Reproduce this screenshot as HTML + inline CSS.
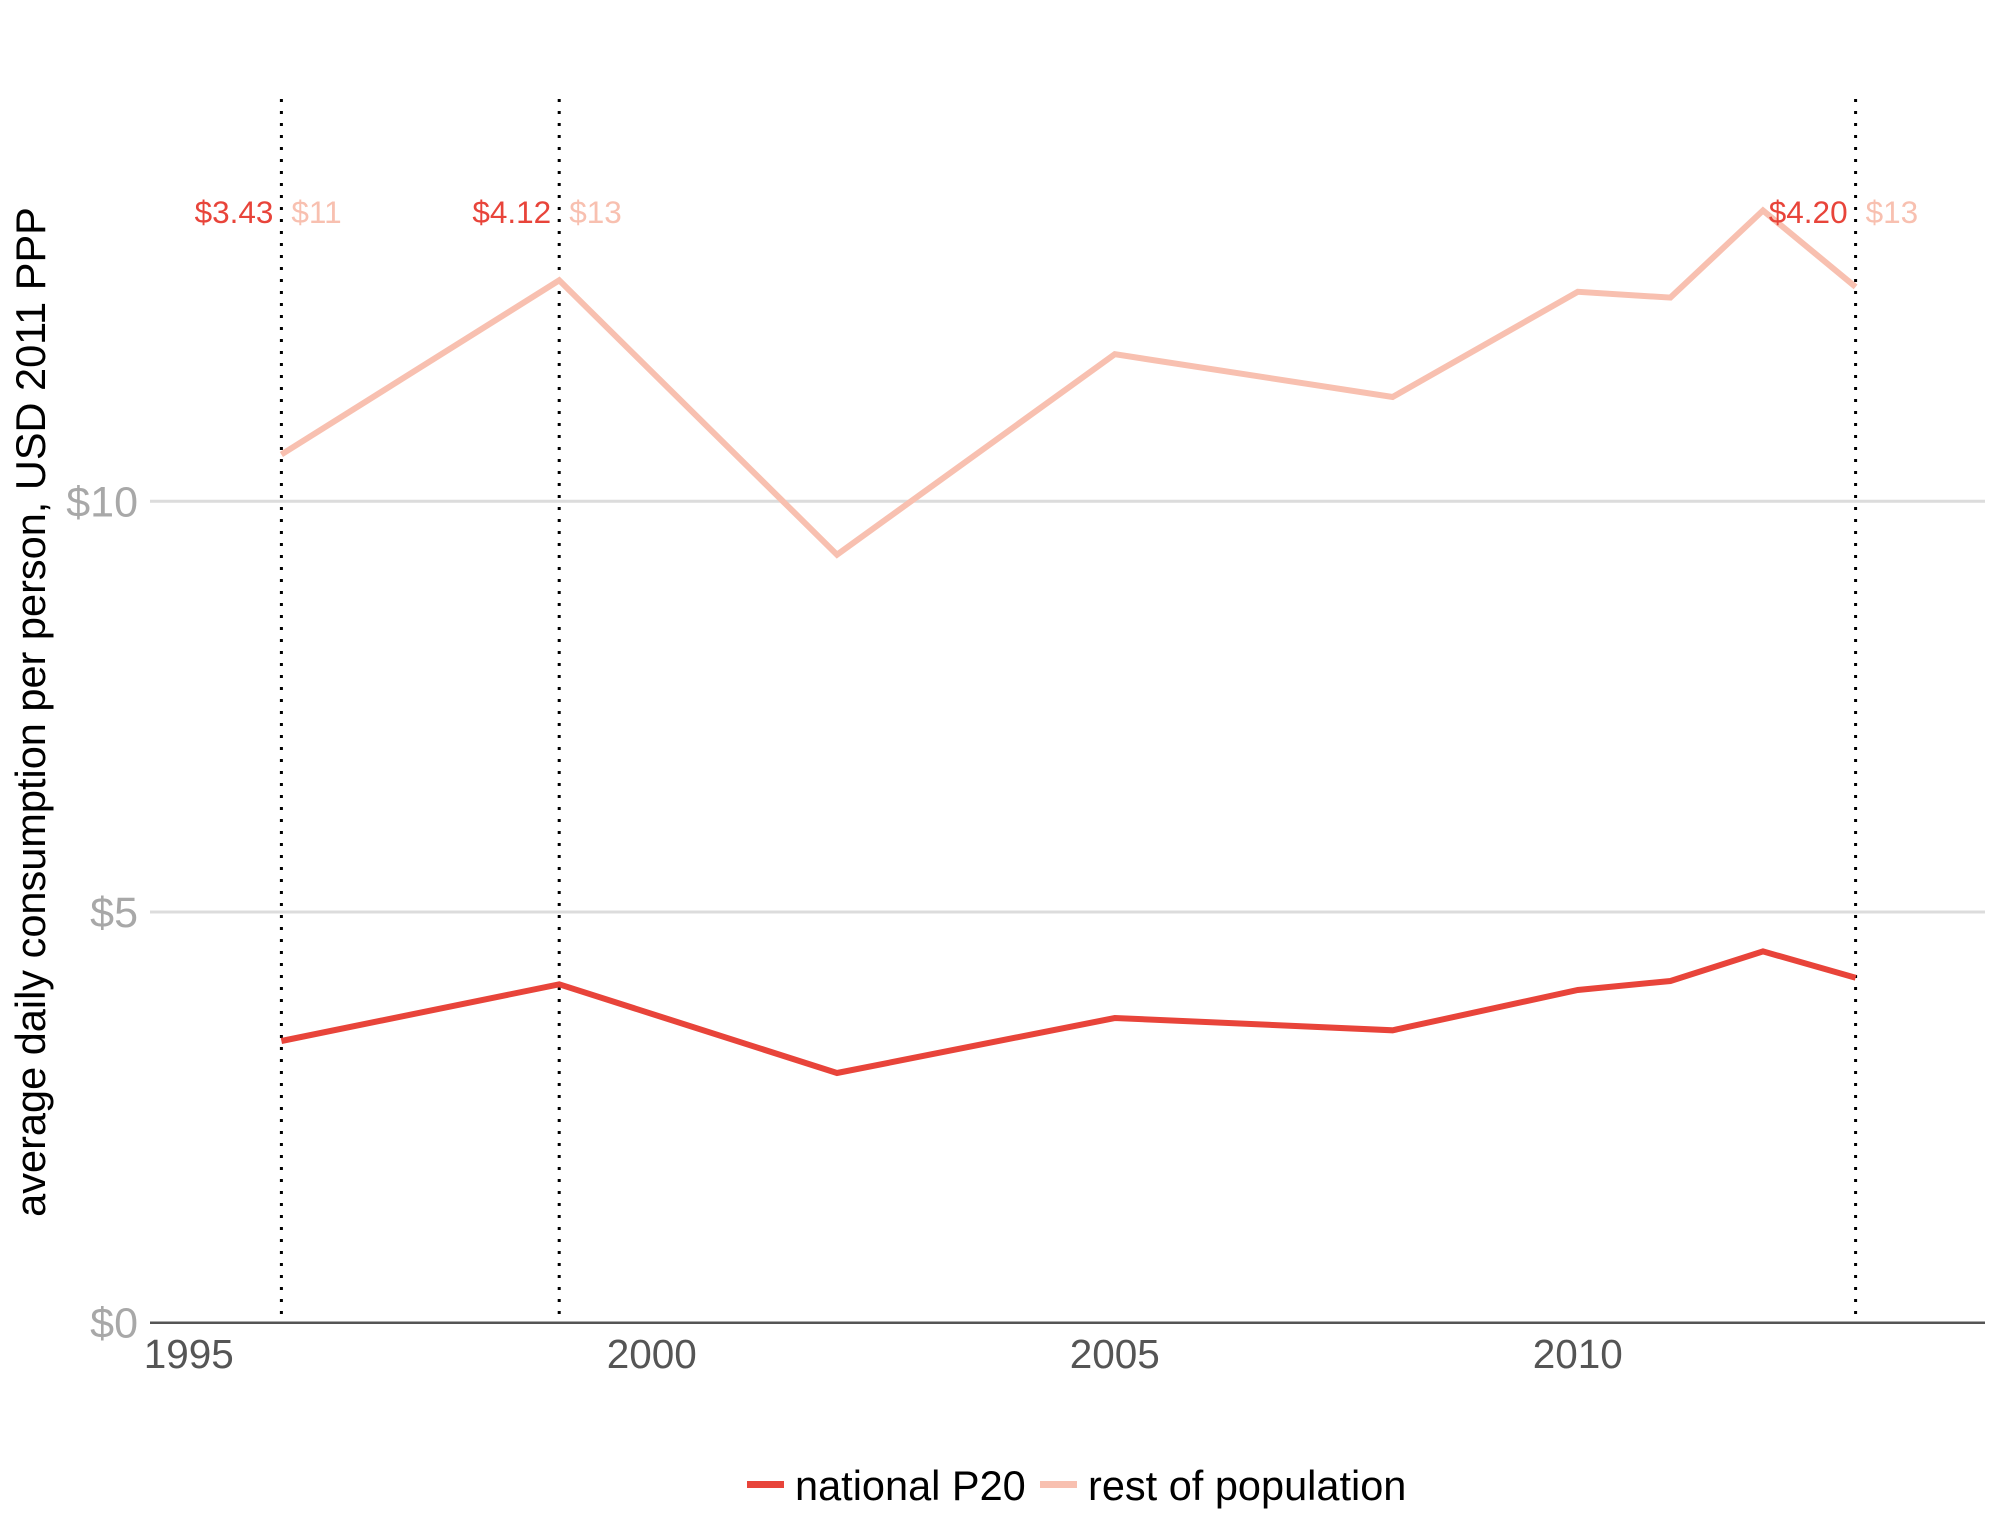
<!DOCTYPE html>
<html><head><meta charset="utf-8"><style>
html,body{margin:0;padding:0;background:#fff}
svg{display:block;font-family:"Liberation Sans",sans-serif}
</style></head><body>
<svg id="chart" width="2000" height="1540" viewBox="0 0 2000 1540">
<g id="grid"></g><g id="vlines"></g><g id="series"></g><g id="labels"></g><g id="axes"></g>
<text transform="translate(45,712) rotate(-90)" text-anchor="middle" font-size="41.5" fill="#000">average daily consumption per person, USD 2011 PPP</text>
<g>
<rect x="747" y="1481" width="37" height="7" fill="#e8443a"/>
<text x="795" y="1500" font-size="41.5" fill="#000">national P20</text>
<rect x="1040" y="1481" width="37" height="7" fill="#f8c0b0"/>
<text x="1088" y="1500" font-size="41.5" fill="#000">rest of population</text>
</g>
</svg>
<script>
const years=[1996,1999,2002,2005,2008,2010,2011,2012,2013];
const p20=[3.43,4.12,3.04,3.71,3.56,4.05,4.16,4.52,4.20];
const rest=[10.57,12.69,9.35,11.79,11.27,12.55,12.48,13.54,12.61];
const xTicks=[1995,2000,2005,2010];
const yTicks=[0,5,10];
const yTickLabels=["$0","$5","$10"];
const markYears=[1996,1999,2013];
const markP20=["$3.43","$4.12","$4.20"];
const markRest=["$11","$13","$13"];
const NS="http://www.w3.org/2000/svg";
const x=y=>188.8+(y-1995)*92.6;
const yv=v=>1322.7-v*64.4*1.2755;
function mk(tag,attrs,parent,txt){const e=document.createElementNS(NS,tag);for(const k in attrs)e.setAttribute(k,attrs[k]);if(txt!==undefined)e.textContent=txt;document.getElementById(parent).appendChild(e);return e;}
yTicks.forEach((t,i)=>{
 if(t>0){const g=mk('line',{x1:150,x2:1985,y1:yv(t),y2:yv(t),stroke:'#dcdcdc','stroke-width':3},'grid');
 
 }
 const l=mk('text',{x:138,y:yv(t)+15,'text-anchor':'end','font-size':43,fill:'#a8a8a8'},'axes',yTickLabels[i]);
 
 
});
const ax=mk('line',{x1:150,x2:1985,y1:yv(0),y2:yv(0),stroke:'#555','stroke-width':2.5},'axes');


xTicks.forEach(t=>{
 const l=mk('text',{x:x(t),y:1368,'text-anchor':'middle','font-size':40.5,fill:'#555'},'axes',String(t));
 
 
});
markYears.forEach((yr,i)=>{
 const v=mk('line',{x1:x(yr),x2:x(yr),y1:99,y2:yv(0),stroke:'#000','stroke-width':3,'stroke-dasharray':'3 9'},'vlines');
 
 
 const a=mk('text',{x:x(yr)-8,y:223,'text-anchor':'end','font-size':31.5,fill:'#e8443a'},'labels',markP20[i]);
 
 
 const b=mk('text',{x:x(yr)+10,y:223,'font-size':31.5,fill:'#f8c0b0'},'labels',markRest[i]);
 
 
});
function path(vals){return vals.map((v,i)=>(i?'L':'M')+x(years[i]).toFixed(1)+','+yv(v).toFixed(1)).join(' ');}
const r=mk('path',{d:path(rest),fill:'none',stroke:'#f8c0b0','stroke-width':6,'stroke-linejoin':'miter'},'series');


const p=mk('path',{d:path(p20),fill:'none',stroke:'#e8443a','stroke-width':6},'series');


</script>
</body></html>
